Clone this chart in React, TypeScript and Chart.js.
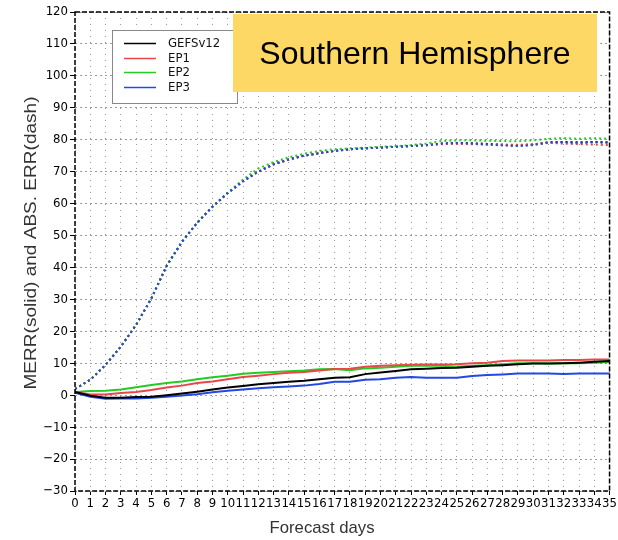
import React, { useEffect, useRef } from 'react';
import { Chart, registerables } from 'chart.js';
Chart.register(...registerables);

const days = [0, 1, 2, 3, 4, 5, 6, 7, 8, 9, 10, 11, 12, 13, 14, 15, 16, 17, 18, 19, 20, 21, 22, 23, 24, 25, 26, 27, 28, 29, 30, 31, 32, 33, 34, 35];
const seriesNames = ['GEFSv12', 'EP1', 'EP2', 'EP3'];
const seriesColors = ['#000000', '#e8474a', '#22cc22', '#2448e0'];

// MERR (solid)
const merrGefs = [1, -0.2, -0.8, -0.8, -0.6, -0.5, 0, 0.5, 1.1, 1.8, 2.4, 2.9, 3.4, 3.8, 4.2, 4.5, 5, 5.5, 5.6, 6.6, 7.1, 7.6, 8.1, 8.3, 8.5, 8.6, 8.9, 9.2, 9.4, 9.7, 9.9, 9.9, 10, 10.2, 10.5, 10.7];
const merrEp1 = [1, 0.2, 0.2, 0.7, 1, 1.6, 2.4, 3, 3.8, 4.3, 5, 5.7, 6.1, 6.6, 7, 7.3, 7.7, 8.2, 8.3, 8.9, 9.2, 9.4, 9.5, 9.6, 9.6, 9.7, 10, 10.2, 10.7, 10.9, 10.9, 10.9, 11, 11, 11.2, 11.2];
const merrEp2 = [1, 1.3, 1.4, 1.8, 2.5, 3.2, 3.8, 4.3, 5, 5.6, 6.1, 6.7, 7, 7.3, 7.5, 7.7, 8.1, 8.2, 7.8, 8.4, 8.6, 8.9, 9.2, 9.2, 9.2, 8.9, 9.2, 9.4, 9.7, 10, 10, 9.9, 10, 10, 10.2, 10.4];
const merrEp3 = [0.8, -0.5, -1.1, -1, -1, -0.8, -0.5, -0.1, 0.3, 0.9, 1.4, 1.8, 2.2, 2.5, 2.7, 3, 3.5, 4.2, 4.2, 4.8, 5, 5.5, 5.7, 5.5, 5.5, 5.5, 6, 6.3, 6.5, 6.8, 6.8, 6.8, 6.6, 6.8, 6.8, 6.8];

// ABS. ERR (dash)
const absGefs = [2, 4.8, 9.5, 15.2, 22, 30.3, 40.5, 48, 54, 59, 63.3, 67, 70, 72.3, 73.8, 75, 75.8, 76.5, 77, 77.3, 77.5, 77.8, 78, 78.3, 78.8, 79, 78.9, 78.7, 78.4, 78.2, 78.5, 79.2, 79.3, 79.2, 79.3, 79.2];
const absEp1 = [2, 4.8, 9.5, 15.2, 22, 30.3, 40.5, 48, 54, 59, 63.3, 67, 70, 72.3, 73.8, 75, 75.8, 76.5, 77, 77.3, 77.5, 77.8, 78, 78.3, 78.6, 78.7, 78.6, 78.5, 78.5, 78.4, 78.6, 79, 78.8, 78.6, 78.5, 78.3];
const absEp2 = [2, 4.8, 9.5, 15.2, 22, 30.3, 40.5, 48, 54, 59, 63.5, 67.5, 71, 73, 74.5, 75.6, 76.5, 77, 77.3, 77.5, 77.8, 78, 78.3, 78.8, 79.6, 79.8, 79.8, 79.7, 79.6, 79.5, 79.8, 80.3, 80.5, 80.3, 80.5, 80.3];
const absEp3 = [2, 4.8, 9.5, 15.2, 22, 30.3, 40.5, 48, 54, 59, 63.3, 67, 70, 72.3, 73.8, 75, 75.8, 76.5, 77, 77.3, 77.5, 77.8, 78, 78.3, 78.8, 79, 78.8, 78.5, 78.2, 78, 78.3, 79.2, 79.2, 79, 79.2, 79];

const yTicks = [-30, -20, -10, 0, 10, 20, 30, 40, 50, 60, 70, 80, 90, 100, 110, 120];

const titleText = 'Southern Hemisphere';
const yTitle = 'MERR(solid) and ABS. ERR(dash)';
const xTitle = 'Forecast days';

const tickFont = '"Liberation Sans Narrow", "DejaVu Sans Condensed", "Liberation Sans", sans-serif';

function drawFitted(ctx: CanvasRenderingContext2D, text: string, cx: number, cy: number, width: number, rot: number) {
  ctx.save();
  ctx.translate(cx, cy);
  ctx.rotate(rot);
  const w = ctx.measureText(text).width;
  ctx.scale(width / w, 1);
  ctx.textAlign = 'center';
  ctx.textBaseline = 'middle';
  ctx.fillText(text, 0, 0);
  ctx.restore();
}

const decor = {
  id: 'decor',
  afterDatasetsDraw(chart: any) {
    const { ctx, chartArea: a } = chart;
    ctx.save();
    ctx.strokeStyle = '#000';
    ctx.lineWidth = 1.5;
    ctx.setLineDash([5, 2]);
    ctx.strokeRect(a.left, a.top, a.right - a.left, a.bottom - a.top);
    ctx.restore();
  },
  afterDraw(chart: any) {
    const ctx: CanvasRenderingContext2D = chart.ctx;
    ctx.save();
    // legend box
    ctx.fillStyle = '#fff';
    ctx.fillRect(112, 30, 125, 73);
    ctx.strokeStyle = '#888';
    ctx.lineWidth = 1;
    ctx.strokeRect(112.5, 30.5, 125, 73);
    const rows = [43.5, 58.5, 72.5, 87.5];
    seriesNames.forEach((n, i) => {
      ctx.strokeStyle = seriesColors[i];
      ctx.lineWidth = 1.5;
      ctx.beginPath();
      ctx.moveTo(124, rows[i]);
      ctx.lineTo(156, rows[i]);
      ctx.stroke();
      ctx.fillStyle = '#111';
      ctx.font = `13px ${tickFont}`;
      ctx.textAlign = 'left';
      ctx.textBaseline = 'middle';
      ctx.fillText(n, 168, rows[i] + 0.5);
    });
    // yellow title box
    ctx.fillStyle = '#fdd865';
    ctx.fillRect(233, 14, 364, 78);
    ctx.fillStyle = '#000';
    ctx.font = '32px "Liberation Sans", Arial, sans-serif';
    ctx.textAlign = 'center';
    ctx.textBaseline = 'alphabetic';
    ctx.fillText(titleText, 415, 64);
    // axis titles
    ctx.fillStyle = '#333';
    ctx.font = '17px "Liberation Sans", sans-serif';
    drawFitted(ctx, yTitle, 31, 243, 293, -Math.PI / 2);
    drawFitted(ctx, xTitle, 322, 528, 105, 0);
    ctx.restore();
  },
};

export default function App() {
  const ref = useRef<HTMLCanvasElement>(null);
  useEffect(() => {
    const toPts = (arr: number[]) => days.map((d, i) => ({ x: d, y: arr[i] }));
    const merr = [merrGefs, merrEp1, merrEp2, merrEp3];
    const abs = [absGefs, absEp1, absEp2, absEp3];
    const datasets: any[] = [];
    // Chart.js draws the first dataset on top: put EP3 first
    [3, 2, 1, 0].forEach((i) => {
      datasets.push({
        label: seriesNames[i] + ' ABS',
        data: toPts(abs[i]),
        borderColor: seriesColors[i],
        borderWidth: 2,
        borderDash: [2, 3],
        pointRadius: 0,
        tension: 0,
        fill: false,
      });
    });
    [0, 3, 1, 2].forEach((i) => {
      datasets.push({
        label: seriesNames[i],
        data: toPts(merr[i]),
        borderColor: seriesColors[i],
        borderWidth: 2,
        pointRadius: 0,
        tension: 0,
        fill: false,
      });
    });
    const chart = new Chart(ref.current!, {
      type: 'line',
      data: { datasets },
      options: {
        animation: false,
        responsive: false,
        maintainAspectRatio: false,
        layout: { padding: { top: 12, right: 7, left: 0, bottom: 0 } },
        plugins: { legend: { display: false }, tooltip: { enabled: false }, title: { display: false } },
        scales: {
          x: {
            type: 'linear',
            min: 0,
            max: 35,
            afterFit: (s: any) => { s.height = 49; },
            afterBuildTicks: (s: any) => { s.ticks = days.map((d) => ({ value: d })); },
            ticks: {
              autoSkip: false,
              maxRotation: 0,
              padding: 1,
              color: '#000',
              font: { family: tickFont, size: 13 },
              callback: (v: any) => String(v),
            },
            grid: {
              color: '#9a9a9a',
              lineWidth: 1,
              tickLength: 4,
              tickColor: '#000',
              tickBorderDash: [],
            },
            border: { display: false, dash: [1, 5] },
          },
          y: {
            type: 'linear',
            min: -30,
            max: 120,
            afterFit: (s: any) => { s.width = 75; },
            afterBuildTicks: (s: any) => { s.ticks = yTicks.map((v) => ({ value: v })); },
            ticks: {
              autoSkip: false,
              padding: 2,
              color: '#000',
              font: { family: tickFont, size: 13 },
              callback: (v: any) => (v < 0 ? '\u2212' + Math.abs(v) : String(v)),
            },
            grid: {
              color: '#9a9a9a',
              lineWidth: 1,
              tickLength: 5,
              tickColor: '#000',
              tickBorderDash: [],
            },
            border: { display: false, dash: [2, 3] },
          },
        },
      },
      plugins: [decor],
    });
    return () => chart.destroy();
  }, []);
  return (
    <div style={{ position: 'fixed', left: 0, top: 0, width: 618, height: 540, background: '#fff' }}>
      <canvas ref={ref} width={618} height={540} style={{ width: 618, height: 540 }} />
    </div>
  );
}
